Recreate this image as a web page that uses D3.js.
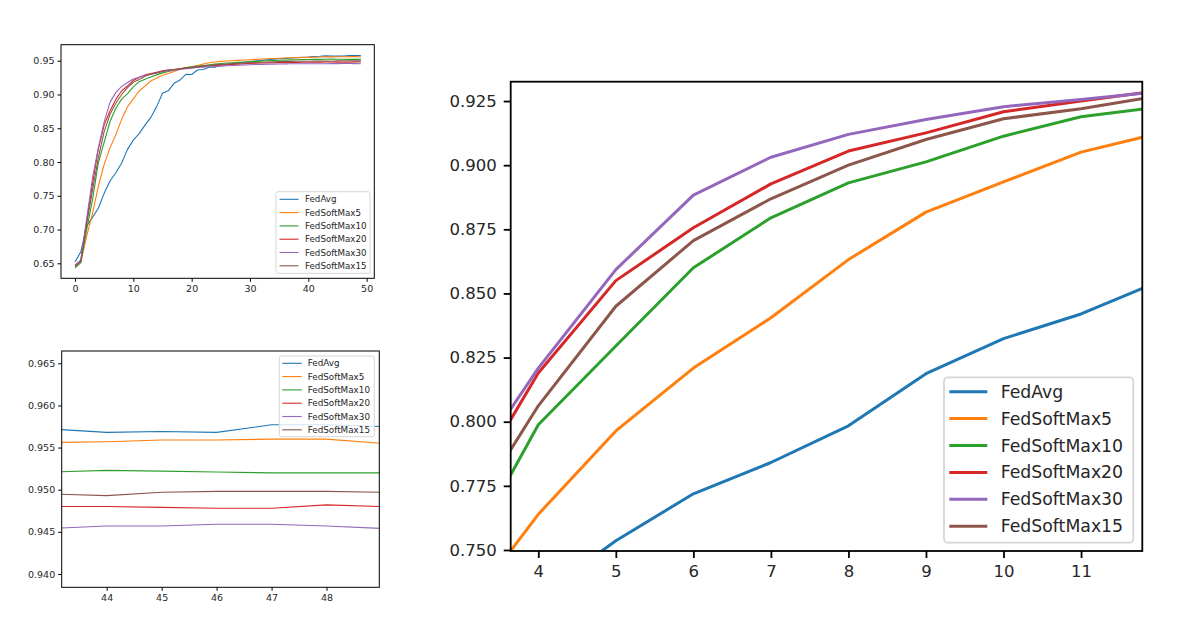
<!DOCTYPE html>
<html>
<head>
<meta charset="utf-8">
<script src="https://cdn.jsdelivr.net/npm/d3@7"></script>
<style>
  body { margin: 0; background: #fff; }
  svg text { font-family: "DejaVu Sans", sans-serif; fill: #262626; }
</style>
</head>
<body>
<div class="C"></div>
<script>
// rounds 0..49
var epochs = [0,1,2,3,4,5,6,7,8,9,10,11,12,13,14,15,16,17,18,19,20,21,22,23,24,
              25,26,27,28,29,30,31,32,33,34,35,36,37,38,39,40,41,42,43,44,45,46,47,48,49];

var fedAvg = [0.652,0.667,0.705,0.718,0.7316,0.7536,0.7719,0.7841,0.7984,0.8187,
              0.8324,0.8420,0.8546,0.8660,0.8820,0.9017,0.9056,0.9165,0.9214,0.9298,
              0.9295,0.9362,0.9370,0.9402,0.9405,0.9436,0.9445,0.9458,0.9467,0.9475,
              0.9488,0.9496,0.9505,0.9514,0.9523,0.9530,0.9534,0.9540,0.9545,0.9549,
              0.9553,0.9562,0.9566,0.9572,0.9568,0.9569,0.9568,0.9577,0.9577,0.9575];
var fedSoftMax5 = [0.648,0.652,0.690,0.724,0.7639,0.7964,0.8209,0.8405,0.8632,0.8817,
              0.8935,0.9051,0.9124,0.9200,0.9245,0.9285,0.9310,0.9340,0.9375,0.9395,
              0.9410,0.9430,0.9450,0.9470,0.9480,0.9490,0.9495,0.9500,0.9505,0.9510,
              0.9515,0.9520,0.9525,0.9530,0.9533,0.9536,0.9540,0.9543,0.9546,0.9548,
              0.9550,0.9552,0.9554,0.9556,0.9557,0.9559,0.9559,0.9560,0.9560,0.9555];
var fedSoftMax10 = [0.643,0.651,0.700,0.744,0.7988,0.8295,0.8600,0.8795,0.8931,0.9013,
              0.9113,0.9189,0.9226,0.9260,0.9290,0.9320,0.9340,0.9360,0.9380,0.9400,
              0.9410,0.9420,0.9430,0.9440,0.9450,0.9458,0.9465,0.9470,0.9475,0.9480,
              0.9485,0.9490,0.9495,0.9500,0.9503,0.9506,0.9509,0.9512,0.9514,0.9516,
              0.9518,0.9519,0.9520,0.9521,0.9523,0.9522,0.9521,0.9520,0.9520,0.9520];
var fedSoftMax20 = [0.646,0.654,0.712,0.768,0.8190,0.8550,0.8756,0.8927,0.9055,0.9126,
              0.9208,0.9250,0.9290,0.9310,0.9330,0.9350,0.9360,0.9370,0.9380,0.9390,
              0.9400,0.9410,0.9420,0.9425,0.9430,0.9435,0.9440,0.9445,0.9450,0.9455,
              0.9460,0.9463,0.9466,0.9468,0.9470,0.9472,0.9474,0.9475,0.9476,0.9477,
              0.9478,0.9478,0.9479,0.9480,0.9480,0.9479,0.9478,0.9478,0.9482,0.9480];
var fedSoftMax30 = [0.647,0.655,0.716,0.776,0.8209,0.8593,0.8883,0.9031,0.9120,0.9178,
              0.9228,0.9256,0.9286,0.9300,0.9320,0.9340,0.9350,0.9360,0.9370,0.9380,
              0.9390,0.9400,0.9405,0.9410,0.9415,0.9420,0.9425,0.9430,0.9433,0.9436,
              0.9440,0.9443,0.9446,0.9448,0.9450,0.9452,0.9453,0.9454,0.9455,0.9455,
              0.9455,0.9455,0.9455,0.9454,0.9457,0.9457,0.9459,0.9459,0.9457,0.9454];
var fedSoftMax15 = [0.645,0.653,0.708,0.758,0.8062,0.8450,0.8706,0.8869,0.9000,0.9100,
              0.9181,0.9220,0.9270,0.9300,0.9320,0.9340,0.9360,0.9370,0.9380,0.9390,
              0.9400,0.9410,0.9420,0.9430,0.9440,0.9445,0.9450,0.9455,0.9460,0.9465,
              0.9470,0.9474,0.9477,0.9480,0.9483,0.9486,0.9488,0.9490,0.9491,0.9492,
              0.9493,0.9494,0.9494,0.9495,0.9493,0.9497,0.9498,0.9498,0.9498,0.9497];

var seriesNames = ['FedAvg','FedSoftMax5','FedSoftMax10','FedSoftMax20','FedSoftMax30','FedSoftMax15'];
var seriesColors = ['#1f77b4','#ff7f0e','#2ca02c','#d62728','#9467bd','#8c564b'];

// tick labels of the three panels
var fullXTicks = [0,10,20,30,40,50];
var fullYTicks = [0.65,0.70,0.75,0.80,0.85,0.90,0.95];
var tailXTicks = [44,45,46,47,48];
var tailYTicks = [0.940,0.945,0.950,0.955,0.960,0.965];
var zoomXTicks = [4,5,6,7,8,9,10,11];
var zoomYTicks = [0.750,0.775,0.800,0.825,0.850,0.875,0.900,0.925];

var series = [fedAvg, fedSoftMax5, fedSoftMax10, fedSoftMax20, fedSoftMax30, fedSoftMax15];

var svg = d3.select('.C').append('svg').attr('width', 1200).attr('height', 628);

function panel(p) {
    var x = d3.scaleLinear().domain(p.xDom).range([p.left, p.right]);
    var y = d3.scaleLinear().domain(p.yDom).range([p.bottom, p.top]);
    var g = svg.append('g');

    g.append('clipPath').attr('id', p.id)
        .append('rect')
        .attr('x', p.left).attr('y', p.top)
        .attr('width', p.right - p.left).attr('height', p.bottom - p.top);

    var line = d3.line()
        .x(function (d) { return x(d[0]); })
        .y(function (d) { return y(d[1]); });

    var lines = g.append('g').attr('clip-path', 'url(#' + p.id + ')');
    series.forEach(function (s, i) {
        lines.append('path')
            .datum(epochs.map(function (e, j) { return [e, s[j]]; }))
            .attr('d', line)
            .attr('fill', 'none')
            .attr('stroke', seriesColors[i])
            .attr('stroke-width', p.lw)
            .attr('stroke-linejoin', 'round');
    });

    var xAxis = g.append('g')
        .attr('transform', 'translate(0,' + p.bottom + ')')
        .call(d3.axisBottom(x).tickValues(p.xTicks).tickFormat(d3.format('d'))
            .tickSize(p.tick).tickPadding(p.pad).tickSizeOuter(0));
    var yAxis = g.append('g')
        .attr('transform', 'translate(' + p.left + ',0)')
        .call(d3.axisLeft(y).tickValues(p.yTicks).tickFormat(d3.format(p.yFmt))
            .tickSize(p.tick).tickPadding(p.pad).tickSizeOuter(0));
    [xAxis, yAxis].forEach(function (a) {
        a.select('.domain').remove();
        a.selectAll('line').attr('stroke', '#000').attr('stroke-width', p.frame);
        a.selectAll('text').style('font-size', p.font + 'px')
            .style('font-family', '"DejaVu Sans", sans-serif').attr('fill', '#222');
    });

    g.append('rect')
        .attr('x', p.left).attr('y', p.top)
        .attr('width', p.right - p.left).attr('height', p.bottom - p.top)
        .attr('fill', 'none').attr('stroke', '#000').attr('stroke-width', p.frame);

    // legend
    var L = p.legend;
    g.append('rect')
        .attr('x', L.x0).attr('y', L.y0)
        .attr('width', L.x1 - L.x0).attr('height', L.y1 - L.y0)
        .attr('rx', L.r).attr('ry', L.r)
        .attr('fill', '#fff').attr('fill-opacity', 0.8)
        .attr('stroke', '#d6d6d6').attr('stroke-width', p.frame);
    var items = g.append('g').selectAll('.item')
        .data(seriesNames)
        .enter().append('g')
        .attr('class', 'item')
        .attr('transform', function (d, i) { return 'translate(0,' + (L.row0 + i * L.step) + ')'; });
    items.append('line')
        .attr('x1', L.lx0).attr('x2', L.lx1)
        .attr('stroke', function (d, i) { return seriesColors[i]; })
        .attr('stroke-width', p.lw);
    items.append('text')
        .attr('x', L.tx).attr('dy', '0.35em')
        .style('font-size', L.font + 'px')
        .text(function (d) { return d; });
}

panel({
    id: 'clipFull', left: 61, right: 374.3, top: 44.7, bottom: 278.3,
    xDom: [-2.40, 51.31], yDom: [0.6278, 0.9737],
    xTicks: fullXTicks, yTicks: fullYTicks, yFmt: '.2f',
    lw: 1.1, frame: 1, tick: 3.5, pad: 3, font: 9.5,
    legend: { x0: 276, x1: 370, y0: 191.7, y1: 273.3, r: 2, row0: 199.3, step: 13.3,
              lx0: 279.5, lx1: 298.5, tx: 305, font: 8.7 }
});

panel({
    id: 'clipTail', left: 61.7, right: 379.3, top: 351, bottom: 587.3,
    xDom: [43.182, 48.96], yDom: [0.93842, 0.96646],
    xTicks: tailXTicks, yTicks: tailYTicks, yFmt: '.3f',
    lw: 1.1, frame: 1, tick: 3.5, pad: 3, font: 9.5,
    legend: { x0: 279.3, x1: 374.3, y0: 356, y1: 436.7, r: 2, row0: 363.3, step: 13.3,
              lx0: 282.3, lx1: 301.7, tx: 307.7, font: 8.8 }
});

panel({
    id: 'clipZoom', left: 510.7, right: 1142.3, top: 81.7, bottom: 551,
    xDom: [3.644, 11.79], yDom: [0.7496, 0.93254],
    xTicks: zoomXTicks, yTicks: zoomYTicks, yFmt: '.3f',
    lw: 3, frame: 1.8, tick: 7, pad: 7, font: 16.5,
    legend: { x0: 944, x1: 1133.3, y0: 377.3, y1: 542.7, r: 4, row0: 391.7, step: 26.9,
              lx0: 949.3, lx1: 987.3, tx: 1000.7, font: 17.3 }
});
</script>
</body>
</html>
